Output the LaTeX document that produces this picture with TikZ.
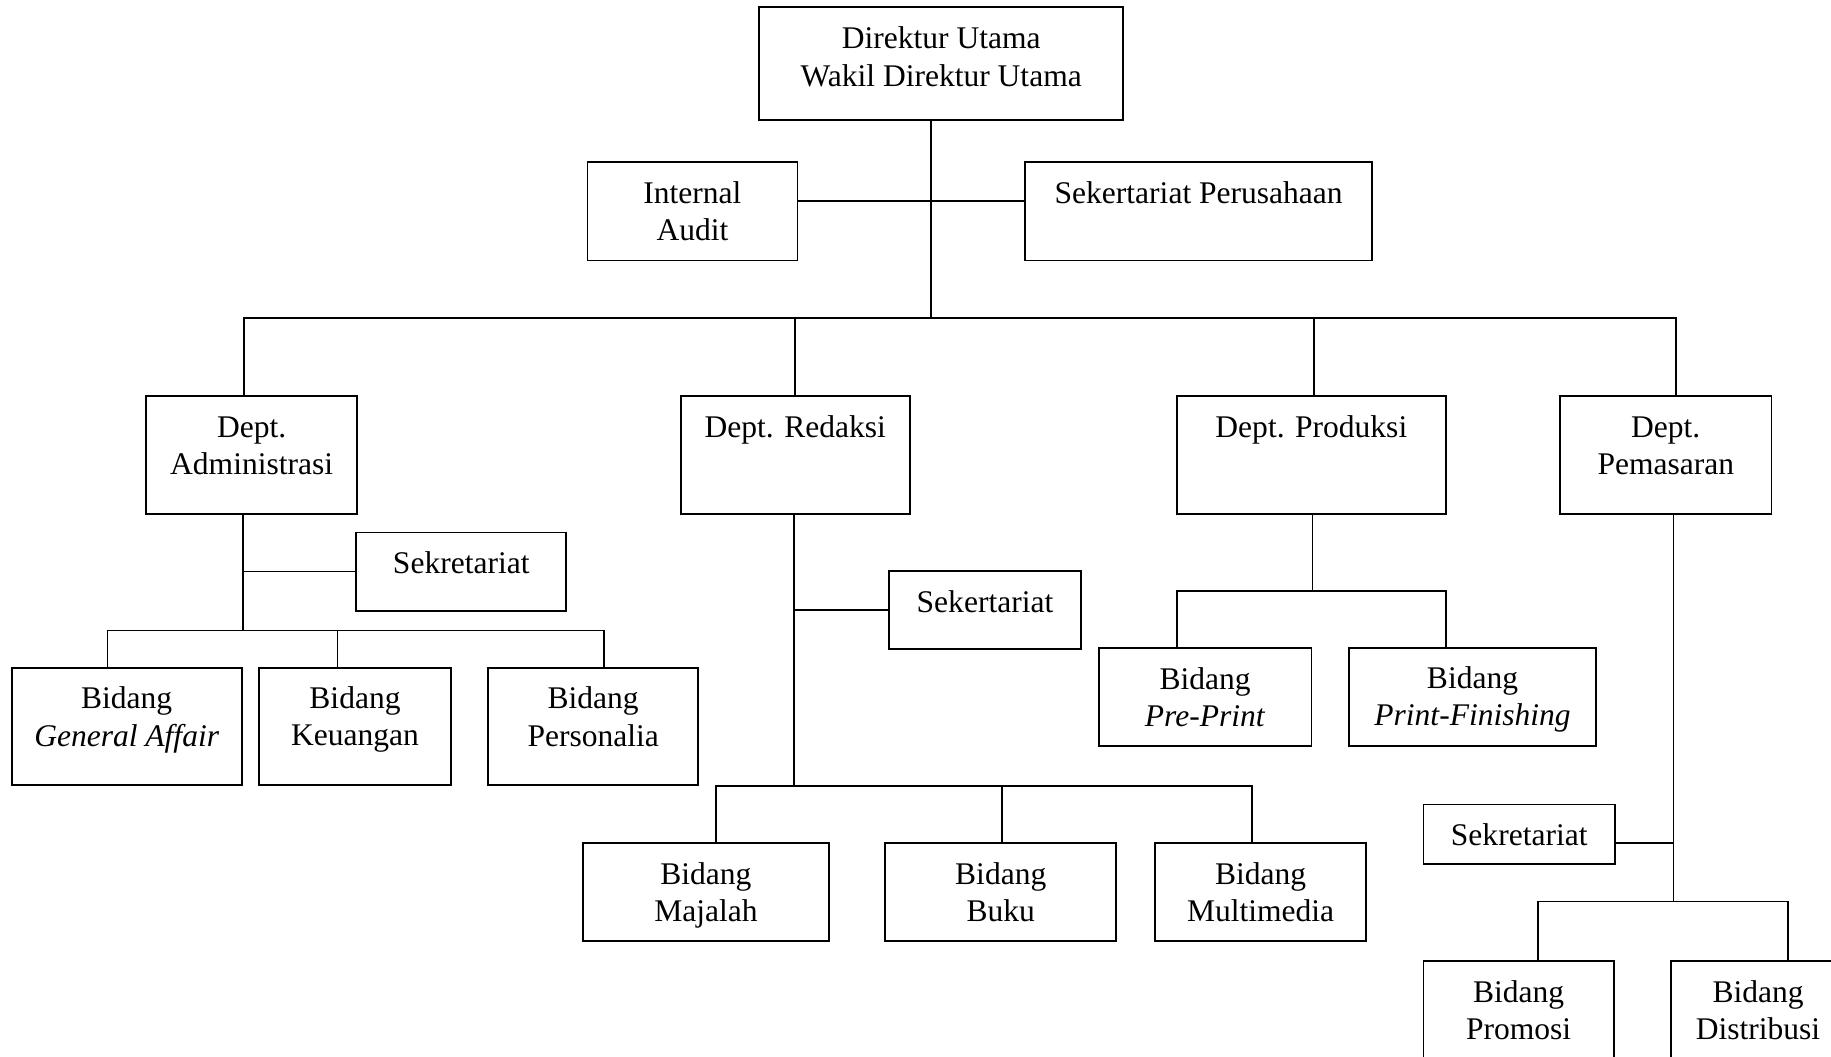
\documentclass[tikz,border=0pt]{standalone}
\usepackage{fontspec}
\setmainfont{Liberation Serif}
\usetikzlibrary{positioning, calc}

\begin{document}
\begin{tikzpicture}[
    x=1pt, y=-1pt,
    % Define node styles
    box/.style={rectangle, draw, line width=1.5pt, inner sep=0pt, align=center, font=\fontsize{27}{32}\selectfont},
    lift/.style={text depth=#1},
    top/.style={box, minimum width=312pt, minimum height=97pt},
    staff/.style={box, minimum height=84pt},
    dept/.style={box, minimum height=101pt},
    sekr/.style={box, minimum height=67pt},
    bid/.style={box, minimum height=84pt},
    % Define edge style
    edge/.style={line width=1.5pt},
]

\fill[white] (0,0) rectangle (1568,905);
\useasboundingbox (0,0) rectangle (1568,905);
\clip (0,0) rectangle (1568,905);

% Drawing the Direktur node at the top
\node[top, lift=12pt] (Direktur) at (806,54.5) {Direktur Utama\\Wakil Direktur Utama};

% Drawing the staff row
\node[staff, minimum width=180pt] (Audit) at (593,181) {Internal\\Audit};
\node[staff, minimum width=297pt, lift=0pt, right=193.5pt of Audit] (SekPer) {Sekertariat Perusahaan\\\strut};

% Drawing the department row
\node[dept, minimum width=181pt, lift=16pt] (Admin) at (215.5,389.5) {Dept.\\Administrasi};
\node[dept, minimum width=196pt, lift=15.6pt, right=275.5pt of Admin] (Redaksi) {Dept. Redaksi\\\strut};
\node[dept, minimum width=230pt, lift=15.6pt, right=227.5pt of Redaksi] (Produksi) {Dept. Produksi\\\strut};
\node[dept, minimum width=181pt, lift=16pt, right=96.5pt of Produksi] (Pemasaran) {Dept.\\Pemasaran};

% Drawing the sekretariat boxes
\node[sekr, minimum width=180pt, lift=16pt] (SekAdm) at (395,489.5) {Sekretariat};
\node[sekr, minimum width=165pt, lift=14pt] (SekRed) at (843.5,522.5) {Sekertariat};
\node[sekr, minimum width=164pt, minimum height=51pt] (SekPem) at (1301,714.5) {Sekretariat};

% Drawing the Bidang rows
\node[bid, minimum width=197pt, minimum height=100pt, lift=17pt] (GenAff) at (108.5,622) {Bidang\\\textit{General Affair}};
\node[bid, minimum width=164pt, minimum height=100pt, lift=18pt, right=13.5pt of GenAff] (Keuangan) {Bidang\\Keuangan};
\node[bid, minimum width=180pt, minimum height=100pt, lift=17pt, right=30.5pt of Keuangan] (Personalia) {Bidang\\Personalia};

\node[bid, minimum width=211pt, lift=0pt] (Majalah) at (604.5,764) {Bidang\\Majalah};
\node[bid, minimum width=198pt, right=46.5pt of Majalah] (Buku) {Bidang\\Buku};
\node[bid, minimum width=181pt, right=31.5pt of Buku] (Multimedia) {Bidang\\Multimedia};

\node[bid, minimum width=182pt] (PrePrint) at (1032,597) {Bidang\\\textit{Pre-Print}};
\node[bid, minimum width=212pt, lift=2pt, right=30.5pt of PrePrint] (PrintFin) {Bidang\\\textit{Print-Finishing}};

\node[bid, minimum width=163pt] (Promosi) at (1300.5,865) {Bidang\\Promosi};
\node[bid, minimum width=149pt, right=47.5pt of Promosi] (Distribusi) {Bidang\\Distribusi};

% Bus points
\coordinate (bus) at (797,272);
\coordinate (AdmBus) at (208,540);
\coordinate (RedBus) at (680,673);
\coordinate (ProBus) at (1124,506);
\coordinate (PemBus) at (1433,772);

% Connecting the Direktur to staff and departments
\draw[edge] (Direktur.south -| bus) -- (bus);
\draw[edge] ([yshift=9pt]Audit.east) -- ([yshift=9pt]Audit.east -| SekPer.west);
\foreach \d/\dx in {Admin/-6.5, Redaksi/0, Produksi/2, Pemasaran/8.5} {
    \draw[edge] (bus) -| ([xshift=\dx pt]\d.north);
}

% Dept. Administrasi
\draw[edge] (AdmBus |- Admin.south) -- (AdmBus);
\draw[edge] (SekAdm.west) -- (SekAdm.west -| AdmBus);
\foreach \b/\dx in {GenAff/-16.5, Keuangan/-15, Personalia/9} {
    \draw[edge] (AdmBus) -| ([xshift=\dx pt]\b.north);
}

% Dept. Redaksi
\draw[edge] (RedBus |- Redaksi.south) -- (RedBus);
\draw[edge] (SekRed.west) -- (SekRed.west -| RedBus);
\foreach \b/\dx in {Majalah/8.5, Buku/1, Multimedia/-7.5} {
    \draw[edge] (RedBus) -| ([xshift=\dx pt]\b.north);
}

% Dept. Produksi
\draw[edge] (ProBus |- Produksi.south) -- (ProBus);
\foreach \b/\dx in {PrePrint/-24, PrintFin/-23} {
    \draw[edge] (ProBus) -| ([xshift=\dx pt]\b.north);
}

% Dept. Pemasaran
\draw[edge] (PemBus |- Pemasaran.south) -- (PemBus);
\draw[edge] ([yshift=-7.5pt]SekPem.east) -- ([yshift=-7.5pt]SekPem.east -| PemBus);
\foreach \b/\dx in {Promosi/16.5, Distribusi/25.5} {
    \draw[edge] (PemBus) -| ([xshift=\dx pt]\b.north);
}

\end{tikzpicture}
\end{document}
